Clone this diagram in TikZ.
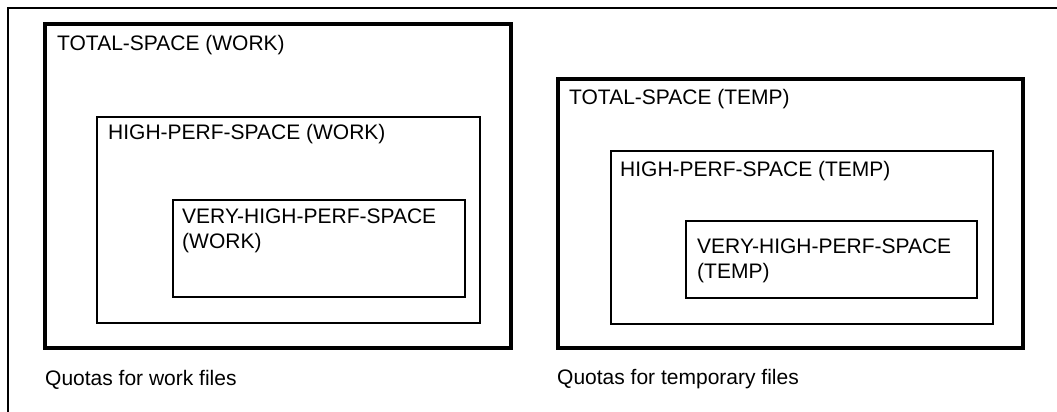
\documentclass[tikz,border=0pt]{standalone}
\usepackage{fontspec}
\setmainfont{Liberation Sans}
\usetikzlibrary{positioning}

\begin{document}
\begin{tikzpicture}[x=1pt, y=-1pt,
		framel/.style={line width=1.4pt, black},
		bigbox/.style={line width=4pt, black},
		smallbox/.style={line width=1.3pt, black},
		lbl/.style={anchor=base west, inner sep=0pt, align=left,
			font=\fontsize{21}{25}\selectfont}]
				\useasboundingbox (0,0) rectangle (1057,412);
				
				% Draw page frame
				\draw[framel] (1057,8) -- (8,8) -- (8,412);
				
				% Draw work quota boxes
				\draw[bigbox] (45,24) rectangle (511,348);
				\draw[smallbox] (97,117) rectangle (480,323);
				\draw[smallbox] (173,200) rectangle (465,297);
				
				% Draw temp quota boxes
				\draw[bigbox] (558,79) rectangle (1023,348);
				\draw[smallbox] (611,151) rectangle (993,324);
				\draw[smallbox] (686,221) rectangle (977,298);
				
				% Labels of the work boxes
				\node[lbl] (totwork) at (57,51) {TOTAL-SPACE (WORK)};
				\node[lbl] (hpwork) at (108,139) {HIGH-PERF-SPACE (WORK)};
				\node[lbl] (vhpwork) at (182,248) {VERY-HIGH-PERF-SPACE\\(WORK)};
				
				% Labels of the temp boxes
				\node[lbl] (tottemp) at (569,104) {TOTAL-SPACE (TEMP)};
				\node[lbl] (hptemp) at (620,176) {HIGH-PERF-SPACE (TEMP)};
				\node[lbl] (vhptemp) at (697,278) {VERY-HIGH-PERF-SPACE\\(TEMP)};
				
				% Captions
				\node[lbl] (capwork) at (45,385) {Quotas for work files};
				\node[lbl] (captemp) at (557,384) {Quotas for temporary files};
\end{tikzpicture}
\end{document}
